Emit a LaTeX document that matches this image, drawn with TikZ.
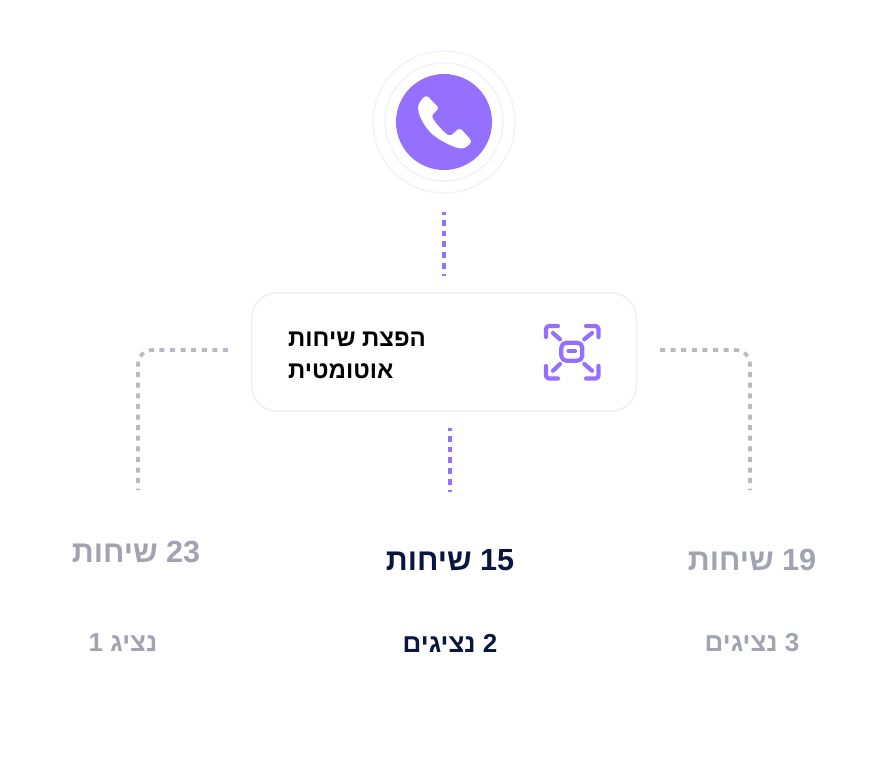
\documentclass[tikz,border=0pt]{standalone}
\usepackage{fontspec}
\setmainfont{Liberation Sans}
\newfontfamily\heb[Script=Hebrew]{Liberation Sans}
\TeXXeTstate=1
\definecolor{violet}{HTML}{9570FF}
\definecolor{ringc}{HTML}{F3F2FD}
\definecolor{boxline}{HTML}{F2F2F5}
\definecolor{dotgray}{HTML}{B9B9C6}
\definecolor{navy}{HTML}{0A1640}
\definecolor{mutedc}{HTML}{A1A3B0}
\tikzset{
  ring/.style={circle,draw=ringc,line width=1.6pt,inner sep=0pt,fill=none},
  vline/.style={violet,line width=4pt,dash pattern=on 5.7pt off 5pt,dash phase=2.7pt},
  gline/.style={dotgray,line width=3.6pt,dash pattern=on 5pt off 5.6pt,rounded corners=14pt},
  glyph/.style={violet,line width=4.2pt,line cap=round,line join=round},
  big/.style={font=\heb\bfseries\fontsize{30.6}{34}\selectfont,inner sep=0pt,anchor=center},
  small/.style={font=\heb\bfseries\fontsize{26}{30}\selectfont,inner sep=0pt,anchor=center},
  boxtext/.style={font=\heb\bfseries\fontsize{24}{32}\selectfont,text=black,inner sep=0pt,anchor=west}
}
\begin{document}
\begin{tikzpicture}[x=1pt,y=-1pt]
\useasboundingbox (0,0) rectangle (888,772);
\node[ring,minimum size=142pt] (outerring) at (444,122) {};
\node[ring,minimum size=118pt] (innerring) at (444,122) {};
\node[circle,fill=violet,minimum size=96pt,inner sep=0pt] (phone) at (444,122) {};
\begin{scope}[shift={(360,40)},x=0.3333pt,y=-0.3333pt]
\fill[white,rounded corners=1.5pt] (192,170) -- (202,168) -- (235,202) -- (233,208) -- (215,227)
  .. controls (225,250) and (255,280) .. (268,287) -- (275,285) -- (295,267) -- (302,266) -- (333,300) -- (333,308)
  .. controls (320,323) and (310,325) .. (300,325)
  .. controls (285,323) and (230,300) .. (205,270)
  .. controls (185,245) and (170,215) .. (177,190) -- cycle;
\end{scope}
\node[draw=boxline,line width=2pt,rounded corners=25pt,minimum width=385pt,minimum height=118pt,inner sep=0pt] (card) at (444,352) {};
\node[boxtext] (t1) at (288,339) {\beginR הפצת שיחות\endR};
\node[boxtext] (t2) at (288,371) {\beginR אוטומטית\endR};
\begin{scope}
\draw[glyph,rounded corners=5pt] (561.3,342.7) rectangle (582.3,360.7);
\draw[glyph] (568.5,351) -- (575,351);
\draw[glyph,rounded corners=3pt] (546,337) -- (546,326) -- (558,326);
\draw[glyph,rounded corners=3pt] (586,326) -- (598.5,326) -- (598.5,337);
\draw[glyph,rounded corners=3pt] (546,366) -- (546,378.5) -- (558,378.5);
\draw[glyph,rounded corners=3pt] (586,378.5) -- (598.5,378.5) -- (598.5,366);
\draw[glyph] (553,333) -- (560,339.3);
\draw[glyph] (584.3,339.3) -- (592,333);
\draw[glyph] (553,370.7) -- (560,364);
\draw[glyph] (584.3,364) -- (592,370.7);
\end{scope}
\coordinate (v1a) at (444,212); \coordinate (v1b) at (444,276);
\coordinate (v2a) at (450,428); \coordinate (v2b) at (450,492);
\coordinate (la) at (228,350); \coordinate (lc) at (138,350); \coordinate (lb) at (138,490);
\coordinate (ra) at (660,350); \coordinate (rc) at (750,350); \coordinate (rb) at (750,490);
\draw[vline] (v1a) -- (v1b);
\draw[vline] (v2a) -- (v2b);
\draw[gline] (la) -- (lc) -- (lb);
\draw[gline] (ra) -- (rc) -- (rb);
\node[big,text=mutedc] (a1) at (136,552) {\beginR 23 שיחות\endR};
\node[big,text=navy] (b1) at (450,560) {\beginR 15 שיחות\endR};
\node[big,text=mutedc] (c1) at (752,560) {\beginR 19 שיחות\endR};
\node[small,text=mutedc] (a2) at (123,643) {\beginR נציג 1\endR};
\node[small,text=navy] (b2) at (450,643) {\beginR 2 נציגים\endR};
\node[small,text=mutedc] (c2) at (752,643) {\beginR 3 נציגים\endR};
\end{tikzpicture}
\end{document}
